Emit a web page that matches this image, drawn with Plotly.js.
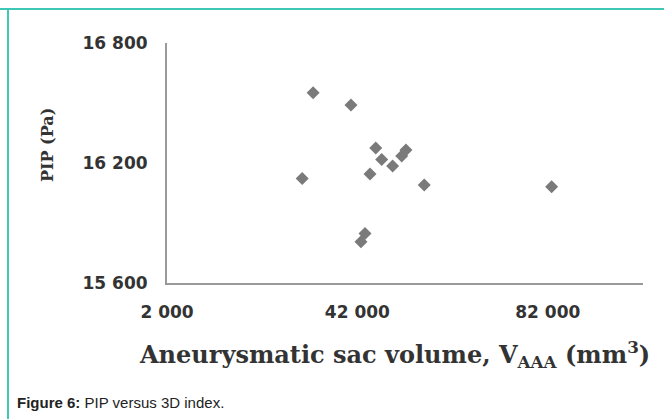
<!DOCTYPE html>
<html>
<head>
<meta charset="utf-8">
<script src="https://cdn.plot.ly/plotly-3.0.1.min.js"></script>
<style>html,body{margin:0;padding:0;background:#fff;}#chart{width:664px;height:419px;}</style>
</head>
<body>
<div id="chart"></div>
<script>
// Aneurysmatic sac volume (mm^3)
var volume = [32700, 40650, 45850, 51300, 52200, 47100, 49400, 44650, 30400, 56050, 43600, 42750, 82800];
// PIP (Pa)
var pip = [16551, 16490, 16275, 16235, 16265, 16218, 16185, 16145, 16123, 16090, 15848, 15806, 16081];
var xTicks = [2000, 42000, 82000];
var xTickText = ['2 000', '42 000', '82 000'];
var yTicks = [15600, 16200, 16800];
var yTickText = ['15 600', '16 200', '16 800'];

var L = 167, R = 643, T = 43, B = 283, W = 664, H = 419;
function px(x){ return (x - L) / (R - L); }
function py(y){ return (B - y) / (B - T); }
function bold(a){ return a.map(function(s){ return '<b>' + s + '</b>'; }); }

var trace = {
  x: volume, y: pip, type: 'scatter', mode: 'markers',
  marker: {symbol: 'diamond', size: 10, color: '#7a7a7a'},
  hoverinfo: 'skip'
};
var teal = '#3ec7b6';
var layout = {
  width: W, height: H,
  margin: {l: L, r: W - R, t: T, b: H - B, pad: 0},
  paper_bgcolor: '#ffffff', plot_bgcolor: '#ffffff',
  showlegend: false,
  xaxis: {
    range: [2000, 102000], showgrid: false, zeroline: false,
    showline: true, linecolor: '#9a9a9a', linewidth: 2,
    tickvals: xTicks, ticktext: bold(xTickText), ticks: 'outside', ticklen: 13, tickcolor: 'rgba(0,0,0,0)',
    tickfont: {family: 'DejaVu Sans', size: 17, color: '#333'}
  },
  yaxis: {
    range: [15600, 16800], showgrid: false, zeroline: false,
    showline: true, linecolor: '#9a9a9a', linewidth: 2,
    tickvals: yTicks, ticktext: bold(yTickText), ticks: 'outside', ticklen: 14, tickcolor: 'rgba(0,0,0,0)',
    tickfont: {family: 'DejaVu Sans', size: 17, color: '#333'}
  },
  annotations: [
    {xref: 'paper', yref: 'paper', x: px(394), y: py(354), xanchor: 'center', yanchor: 'middle', showarrow: false,
     text: '<b>Aneurysmatic sac volume, V<sub>AAA</sub> (mm<sup>3</sup>)</b>',
     font: {family: 'DejaVu Serif', size: 24, color: '#333'}},
    {xref: 'paper', yref: 'paper', x: px(47), y: py(145), xanchor: 'center', yanchor: 'middle', showarrow: false,
     textangle: -90, text: '<b>PIP (Pa)</b>',
     font: {family: 'DejaVu Serif', size: 16, color: '#333'}},
    {xref: 'paper', yref: 'paper', x: px(15), y: py(402), xanchor: 'left', yanchor: 'middle', showarrow: false,
     text: '<b>Figure 6:</b> PIP versus 3D index.',
     font: {family: 'Liberation Sans', size: 15, color: '#222'}}
  ],
  shapes: [
    {type: 'line', xref: 'paper', yref: 'paper', x0: px(0), x1: px(664), y0: py(9), y1: py(9), line: {color: teal, width: 2}},
    {type: 'line', xref: 'paper', yref: 'paper', x0: px(8), x1: px(8), y0: py(9), y1: py(419), line: {color: teal, width: 2}}
  ]
};
Plotly.newPlot('chart', [trace], layout, {staticPlot: true, displayModeBar: false});
</script>
</body>
</html>
